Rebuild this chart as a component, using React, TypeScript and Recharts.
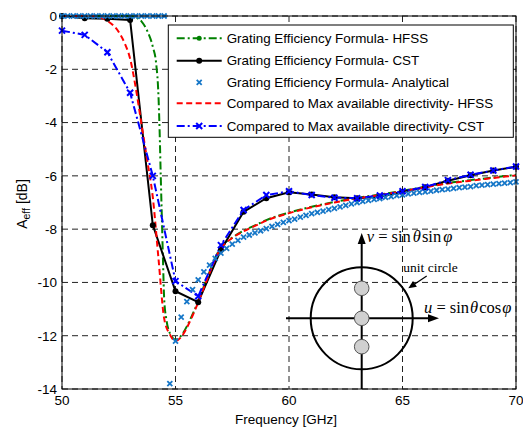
import React from 'react';
import { ComposedChart, Line, XAxis, YAxis, CartesianGrid } from 'recharts';

// ---------- data ----------
const cstFreq = [50, 51, 52, 53, 54, 55, 56, 57, 58, 59, 60, 61, 62, 63, 64, 65, 66, 67, 68, 69, 70];
const cstGratingValues = [0, -0.08, -0.1, -0.15, -7.85, -10.33, -10.74, -8.78, -7.35, -6.84, -6.62, -6.7, -6.8, -6.84, -6.78, -6.6, -6.43, -6.18, -5.98, -5.8, -5.66];
const cstMaxDirValues = [-0.55, -0.71, -1.36, -2.88, -6.0, -9.95, -10.52, -8.6, -7.28, -6.72, -6.58, -6.72, -6.82, -6.84, -6.74, -6.58, -6.42, -6.16, -5.96, -5.8, -5.65];

const hfssGratingFreq = [50, 53, 53.25, 53.5, 53.75, 54, 54.15, 54.25, 54.3, 54.35, 54.4, 54.45, 54.5, 54.6, 54.75, 55, 55.25, 55.5, 55.75, 56, 56.25, 56.5, 56.75, 57, 57.5, 58, 58.5, 59, 60, 61, 62, 63, 64, 65, 66, 67, 68, 69, 70];
const hfssGratingValues = [0, 0, -0.05, -0.2, -0.55, -1.15, -1.8, -3.0, -4.3, -6.0, -7.6, -9.2, -10.6, -11.4, -11.9, -12.15, -12.0, -11.65, -11.2, -10.7, -10.15, -9.6, -9.08, -8.68, -8.32, -8.06, -7.86, -7.66, -7.38, -7.16, -6.98, -6.83, -6.7, -6.56, -6.41, -6.27, -6.16, -6.06, -5.96];

const hfssMaxDirFreq = [50, 51, 51.5, 52, 52.5, 52.75, 53, 53.25, 53.5, 53.75, 54, 54.25, 54.5, 54.75, 55, 55.25, 55.5, 55.75, 56, 56.25, 56.5, 56.75, 57, 57.25, 57.5, 58, 58.5, 59, 60, 61, 62, 63, 64, 65, 66, 67, 68, 69, 70];
const hfssMaxDirValues = [0, 0, -0.02, -0.18, -0.6, -1.0, -1.6, -2.7, -4.05, -5.4, -6.8, -9.1, -11.35, -11.95, -12.2, -12.05, -11.7, -11.25, -10.75, -10.2, -9.65, -9.12, -8.72, -8.5, -8.33, -8.08, -7.88, -7.68, -7.4, -7.18, -7.0, -6.85, -6.72, -6.58, -6.43, -6.29, -6.18, -6.08, -5.98];

const analyticalValues = [
  0, 0, 0, 0, 0, 0, 0, 0, 0, 0, 0, 0, 0, 0, 0, 0, 0, 0, 0,
  -13.8,
  -12.2, -11.3, -10.72, -10.27, -9.9, -9.6, -9.35, -9.1, -8.9, -8.72, -8.56, -8.42,
  -8.3, -8.22, -8.14, -8.06, -7.98, -7.9, -7.82, -7.75, -7.68, -7.62, -7.55, -7.48,
  -7.42, -7.37, -7.32, -7.27, -7.22, -7.16, -7.11, -7.05, -7.0, -6.96, -6.92, -6.88,
  -6.85, -6.81, -6.78, -6.74, -6.71, -6.68, -6.65, -6.62, -6.6, -6.57, -6.54, -6.52,
  -6.5, -6.47, -6.44, -6.42, -6.4, -6.37, -6.35, -6.33, -6.31, -6.29, -6.27, -6.25, -6.23,
];
const analyticalFreq = analyticalValues.map((_, i) => 50 + i * 0.25);

const xTicks = [50, 55, 60, 65, 70];
const yTicks = [-14, -12, -10, -8, -6, -4, -2, 0];

const legendLabels = [
  'Grating Efficiency Formula- HFSS',
  'Grating Efficiency Formula- CST',
  'Grating Efficiency Formula- Analytical',
  'Compared to Max available directivity- HFSS',
  'Compared to Max available directivity- CST',
];

const zip = (fs: number[], vs: number[]) => fs.map((f, i) => ({ f, v: vs[i] }));
const greenData = zip(hfssGratingFreq, hfssGratingValues);
const blackData = zip(cstFreq, cstGratingValues);
const analyticalData = zip(analyticalFreq, analyticalValues);
const redData = zip(hfssMaxDirFreq, hfssMaxDirValues);
const blueData = zip(cstFreq, cstMaxDirValues);

// ---------- styles ----------
const SANS = '"Liberation Sans", Arial, Helvetica, sans-serif';
const SERIF = '"Liberation Serif", "Times New Roman", serif';
const GREEN = '#008000';
const ANALYTIC = '#1677c8';
const RED = '#ff0000';
const BLUE = '#0000ff';

const W = 523;
const H = 430;
const PL = 62, PT = 16, PR = 516, PB = 389;

const xMark = (color: string, s: number, sw: number) => (props: any) => {
  const { cx, cy, index } = props;
  if (cx == null || cy == null) return <g key={`n${index}`} />;
  return (
    <path
      key={`m${index}`}
      d={`M${cx - s},${cy - s}L${cx + s},${cy + s}M${cx - s},${cy + s}L${cx + s},${cy - s}`}
      stroke={color}
      strokeWidth={sw}
      fill="none"
    />
  );
};

const blackDot = (props: any) => {
  const { cx, cy, index } = props;
  if (cx == null || cy == null) return <g key={`n${index}`} />;
  return <circle key={`d${index}`} cx={cx} cy={cy} r={3} fill="#000" stroke="none" />;
};

function LegendBox() {
  const x0 = 168.3, y0 = 25, w = 345, h = 112.3;
  const rows = [38.3, 60.7, 82.3, 103.3, 126];
  const lx1 = 176.7, lx2 = 221.7, lc = 199.2, tx = 226.7;
  return (
    <g>
      <rect x={x0} y={y0} width={w} height={h} fill="#fff" stroke="#000" strokeWidth={1} />
      <line x1={lx1} x2={lx2} y1={rows[0]} y2={rows[0]} stroke={GREEN} strokeWidth={2} strokeDasharray="8 3 2 3" />
      <circle cx={lc} cy={rows[0]} r={2.5} fill={GREEN} />
      <line x1={lx1} x2={lx2} y1={rows[1]} y2={rows[1]} stroke="#000" strokeWidth={2} />
      <circle cx={lc} cy={rows[1]} r={3} fill="#000" />
      {xMark(ANALYTIC, 2.5, 1.8)({ cx: lc, cy: rows[2], index: 'lg' })}
      <line x1={lx1} x2={lx2} y1={rows[3]} y2={rows[3]} stroke={RED} strokeWidth={2} strokeDasharray="6 3.5" />
      <line x1={lx1} x2={lx2} y1={rows[4]} y2={rows[4]} stroke={BLUE} strokeWidth={2} strokeDasharray="8 3 2 3" />
      {xMark(BLUE, 3, 2)({ cx: lc, cy: rows[4], index: 'lb' })}
      {legendLabels.map((t, i) => (
        <text key={t} x={tx} y={rows[i]} dominantBaseline="central" fontSize={13.4} fontFamily={SANS} fill="#000">
          {t}
        </text>
      ))}
    </g>
  );
}

function Inset() {
  const cx = 361.7, cy = 318.3;
  return (
    <g>
      <line x1={cx} x2={cx} y1={243} y2={PB} stroke="#000" strokeWidth={2} />
      <polygon points={`${cx},233 ${cx - 4},244 ${cx + 4},244`} fill="#000" />
      <line x1={286} x2={429} y1={cy} y2={cy} stroke="#000" strokeWidth={2} />
      <polygon points={`439,${cy} 428,${cy - 4} 428,${cy + 4}`} fill="#000" />
      <circle cx={cx} cy={cy} r={51} fill="none" stroke="#000" strokeWidth={2} />
      {[288.3, 318.3, 346.7].map((y) => (
        <circle key={y} cx={cx} cy={y} r={7.3} fill="#d0d0d0" stroke="#555" strokeWidth={1} />
      ))}
      <text x={366.7} y={242} fontSize={16.5} fontFamily={SERIF} fill="#000">
        <tspan fontStyle="italic">v</tspan>
        <tspan> = sin</tspan>
        <tspan fontStyle="italic" dx={2}>θ</tspan>
        <tspan dx={1}>sin</tspan>
        <tspan fontStyle="italic" dx={2}>φ</tspan>
      </text>
      <text x={403.3} y={272} fontSize={13.5} fontFamily={SERIF} fill="#000">unit circle</text>
      <line x1={426.7} y1={276} x2={414} y2={284.5} stroke="#000" strokeWidth={1.2} />
      <polygon points="408.3,288.3 416.9,286.76 413.0,280.94" fill="#000" />
      <text x={424} y={313} fontSize={16.5} fontFamily={SERIF} fill="#000">
        <tspan fontStyle="italic">u</tspan>
        <tspan> = sin</tspan>
        <tspan fontStyle="italic" dx={1}>θ</tspan>
        <tspan dx={1}>cos</tspan>
        <tspan fontStyle="italic" dx={1}>φ</tspan>
      </text>
    </g>
  );
}

export default function App() {
  return (
    <div style={{ position: 'relative', width: W, height: H, overflow: 'hidden' }}>
      <style>{`html, body { margin: 0 !important; padding: 0; }`}</style>
      <ComposedChart width={W} height={H} margin={{ top: PT, right: W - PR, bottom: 0, left: 0 }}>
        <CartesianGrid stroke="#222" strokeDasharray="6 4" strokeWidth={1} />
        <XAxis
          dataKey="f"
          type="number"
          domain={[50, 70]}
          ticks={xTicks}
          interval={0}
          height={H - PB}
          tickSize={0}
          tickMargin={6}
          axisLine={false}
          tick={{ fill: '#000', fontSize: 13.5, fontFamily: SANS }}
        />
        <YAxis
          dataKey="v"
          type="number"
          domain={[-14, 0]}
          ticks={yTicks}
          interval={0}
          width={PL}
          tickSize={0}
          tickMargin={5}
          axisLine={false}
          tick={{ fill: '#000', fontSize: 13.5, fontFamily: SANS }}
        />
        <Line data={greenData} dataKey="v" type="monotone" stroke={GREEN} strokeWidth={2} strokeDasharray="8 3 2 3" dot={false} isAnimationActive={false} />
        <Line data={blackData} dataKey="v" type="linear" stroke="#000" strokeWidth={2} dot={blackDot} isAnimationActive={false} />
        <Line data={analyticalData} dataKey="v" type="linear" stroke="none" dot={xMark(ANALYTIC, 2.5, 1.8)} isAnimationActive={false} />
        <Line data={redData} dataKey="v" type="monotone" stroke={RED} strokeWidth={2} strokeDasharray="6 3.5" dot={false} isAnimationActive={false} />
        <Line data={blueData} dataKey="v" type="linear" stroke={BLUE} strokeWidth={2} strokeDasharray="8 3 2 3" dot={xMark(BLUE, 3, 2)} isAnimationActive={false} />
      </ComposedChart>
      <svg width={W} height={H} style={{ position: 'absolute', left: 0, top: 0, pointerEvents: 'none' }}>
        <rect x={PL} y={PT} width={PR - PL} height={PB - PT} fill="none" stroke="#000" strokeWidth={1} />
        <Inset />
        <LegendBox />
        <text x={286} y={419} textAnchor="middle" dominantBaseline="central" fontSize={13.5} fontFamily={SANS} fill="#000">
          Frequency [GHz]
        </text>
        <text transform="translate(22,204) rotate(-90)" textAnchor="middle" dominantBaseline="central" fontSize={14} fontFamily={SANS} fill="#000">
          A<tspan fontSize={10.5} dy={4}>eff</tspan>
          <tspan dy={-4}> [dB]</tspan>
        </text>
      </svg>
    </div>
  );
}
